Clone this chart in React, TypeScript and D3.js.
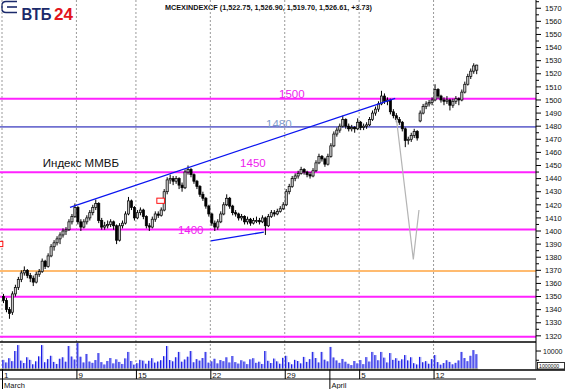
import * as d3 from "d3";
import { useEffect } from "react";

// MICEX intraday candles, 1 March - 14 April (5 bars a day)
const opens = [
  1350, 1347, 1340, 1338, 1352, 1357, 1363, 1368, 1370, 1366,
  1364, 1361, 1367, 1369, 1377, 1373, 1381, 1388, 1391, 1394,
  1397, 1400, 1401, 1407, 1411, 1418, 1407, 1403, 1407, 1410,
  1414, 1418, 1421, 1408, 1403, 1404, 1405, 1407, 1404, 1393,
  1404, 1406, 1413, 1423, 1418, 1410, 1414, 1416, 1411, 1404,
  1403, 1409, 1413, 1412, 1416, 1430, 1439, 1440, 1438, 1440,
  1435, 1433, 1445, 1447, 1443, 1438, 1434, 1428, 1425, 1419,
  1413, 1406, 1403, 1407, 1413, 1420, 1425, 1419, 1414, 1413,
  1410, 1411, 1407, 1409, 1406, 1408, 1408, 1407, 1410, 1404,
  1411, 1414, 1413, 1415, 1417, 1420, 1430, 1434, 1440, 1442,
  1444, 1447, 1445, 1443, 1442, 1446, 1452, 1457, 1455, 1451,
  1457, 1465, 1474, 1477, 1480, 1485, 1480, 1478, 1479, 1478,
  1483, 1479, 1480, 1481, 1485, 1490, 1493, 1497, 1503, 1499,
  1500, 1491, 1488, 1485, 1483, 1478, 1469, 1470, 1473, 1476,
  1484, 1490, 1495, 1497, 1498, 1500, 1508, 1503, 1500, 1499,
  1500, 1496, 1499, 1501, 1500, 1506, 1512, 1518, 1522, 1522.75,
];
const highs = [
  1352, 1349, 1342, 1354, 1359, 1365, 1370, 1373, 1371, 1368,
  1366, 1369, 1371, 1379, 1378, 1383, 1390, 1393, 1396, 1399,
  1402, 1403, 1409, 1413, 1421, 1419, 1409, 1409, 1412, 1416,
  1420, 1424, 1422, 1410, 1407, 1408, 1409, 1408, 1405, 1406,
  1408, 1415, 1426, 1424, 1419, 1416, 1418, 1417, 1412, 1406,
  1411, 1415, 1415, 1418, 1432, 1441, 1443, 1442, 1442, 1441,
  1437, 1447, 1450, 1448, 1444, 1439, 1435, 1430, 1426, 1420,
  1414, 1408, 1409, 1415, 1422, 1428, 1426, 1420, 1416, 1414,
  1413, 1412, 1411, 1410, 1410, 1411, 1410, 1412, 1411, 1413,
  1416, 1416, 1417, 1419, 1422, 1432, 1436, 1442, 1444, 1446,
  1449, 1448, 1446, 1445, 1448, 1454, 1459, 1458, 1456, 1459,
  1467, 1476, 1479, 1482, 1488, 1486, 1482, 1481, 1480, 1486,
  1484, 1482, 1483, 1487, 1492, 1495, 1499, 1507, 1505, 1502,
  1501, 1493, 1490, 1487, 1484, 1479, 1472, 1475, 1478, 1477,
  1492, 1497, 1499, 1500, 1502, 1512, 1509, 1504, 1502, 1503,
  1501, 1501, 1503, 1502, 1508, 1514, 1520, 1524, 1528, 1526.9,
];
const lows = [
  1345, 1338, 1333, 1336, 1350, 1355, 1361, 1366, 1364, 1361,
  1358, 1360, 1365, 1368, 1371, 1372, 1380, 1385, 1389, 1390,
  1395, 1397, 1400, 1405, 1410, 1405, 1400, 1402, 1405, 1408,
  1412, 1416, 1406, 1401, 1401, 1402, 1403, 1401, 1390, 1392,
  1402, 1405, 1412, 1416, 1408, 1409, 1412, 1409, 1402, 1400,
  1402, 1407, 1410, 1411, 1415, 1428, 1436, 1435, 1436, 1432,
  1430, 1432, 1443, 1441, 1436, 1432, 1426, 1423, 1417, 1411,
  1404, 1400, 1401, 1406, 1412, 1419, 1417, 1412, 1411, 1408,
  1408, 1405, 1405, 1404, 1405, 1406, 1405, 1406, 1397, 1403,
  1410, 1411, 1412, 1414, 1416, 1419, 1428, 1433, 1438, 1440,
  1443, 1443, 1441, 1440, 1441, 1445, 1451, 1453, 1449, 1450,
  1456, 1464, 1472, 1475, 1479, 1478, 1476, 1476, 1475, 1477,
  1477, 1477, 1478, 1480, 1484, 1488, 1491, 1496, 1497, 1496,
  1489, 1486, 1483, 1481, 1476, 1464, 1466, 1468, 1471, 1469,
  1483, 1489, 1493, 1495, 1496, 1499, 1501, 1498, 1496, 1497,
  1492, 1494, 1497, 1496, 1499, 1505, 1511, 1516, 1520, 1519.7,
];
const closes = [
  1347, 1340, 1337, 1352, 1357, 1363, 1368, 1370, 1366, 1364,
  1361, 1367, 1369, 1377, 1373, 1381, 1388, 1391, 1394, 1397,
  1400, 1401, 1407, 1411, 1418, 1407, 1403, 1407, 1410, 1414,
  1418, 1421, 1408, 1403, 1404, 1405, 1407, 1404, 1393, 1404,
  1406, 1413, 1423, 1418, 1410, 1414, 1416, 1411, 1404, 1403,
  1409, 1413, 1412, 1416, 1430, 1439, 1440, 1438, 1440, 1435,
  1433, 1445, 1447, 1443, 1438, 1434, 1428, 1425, 1419, 1413,
  1406, 1403, 1407, 1413, 1420, 1425, 1419, 1414, 1413, 1410,
  1411, 1407, 1409, 1406, 1408, 1408, 1407, 1410, 1404, 1411,
  1414, 1413, 1415, 1417, 1420, 1430, 1434, 1440, 1442, 1444,
  1447, 1445, 1443, 1442, 1446, 1452, 1457, 1455, 1451, 1457,
  1465, 1474, 1477, 1480, 1485, 1480, 1478, 1479, 1478, 1483,
  1479, 1480, 1481, 1485, 1490, 1493, 1497, 1503, 1499, 1500,
  1491, 1488, 1485, 1483, 1478, 1469, 1470, 1473, 1476, 1471,
  1490, 1495, 1497, 1498, 1500, 1508, 1503, 1500, 1499, 1500,
  1496, 1499, 1501, 1500, 1506, 1512, 1518, 1522, 1526, 1526.61,
];
const volumes = [
  5200, 3800, 6100, 4500, 10000, 13200, 4800, 3500, 6600, 5200,
  2800, 4400, 7100, 13200, 3900, 5600, 7400, 4100, 3000, 5800,
  6600, 4200, 12700, 7000, 5400, 14300, 6900, 3800, 8400, 4300,
  3600, 5100, 8900, 4000, 2700, 4600, 6200, 3300, 5500, 4100,
  3000, 6000, 9500, 4600, 2600, 3400, 5200, 4800, 3100, 4700,
  6100, 3700, 4300, 5000, 7200, 12700, 5100, 4400, 6600, 9500,
  4200, 5400, 6900, 10000, 3900, 5600, 4800, 6200, 9500, 3700,
  4400, 5800, 3300, 5100, 4500, 6600, 3800, 7300, 4000, 3200,
  5000, 4300, 2900, 5500, 6100, 3600, 4200, 3000, 10000, 4700,
  3500, 5900, 4400, 3100, 6300, 7400, 3900, 2800, 5200, 4600,
  3300, 6800, 4100, 5600, 9500, 6200, 3800, 9500, 5300, 4400,
  12200, 6500, 4900, 3600, 5700, 4200, 3100, 2400, 4600, 3300,
  5100, 2900, 6700, 4300, 9500, 7800, 5000, 9500, 6400, 3800,
  8900, 5200, 6100, 4700, 5500, 7800, 4900, 6600, 3400, 2700,
  6800, 3900, 4500, 3100, 5600, 7800, 4000, 2600, 3500, 5000,
  4100, 2800, 3600, 4900, 9500, 6200, 4500, 7400, 10500, 8300,
];

const priceTicks = [
  1320, 1330, 1340, 1350, 1360, 1370, 1380, 1390, 1400, 1410, 1420, 1430, 1440,
  1450, 1460, 1470, 1480, 1490, 1500, 1510, 1520, 1530, 1540, 1550, 1560, 1570,
];
const weekBars = [0, 25, 45, 70, 95, 120, 145];
const weekLabels = ["1", "9", "15", "22", "29", "5", "12"];
const monthBars = [0, 110];
const monthLabels = ["March", "April"];

// hand-drawn levels and annotations (data units: bar index, price)
const magentaLevels = [1501, 1444.8, 1401.1, 1349.8, 1319.4];
const blueLevel = 1479.5;
const orangeLevel = 1369.5;
const levelTexts = ["1500", "1480", "1450", "1400"];
const levelTextBars = [93.1, 88.7, 80, 59.1];
const levelTextPrices = [1501.5, 1478.7, 1448.6, 1397.6];
const trendUp = [[22.85, 1418.1], [132.1, 1501.3]];
const trendLow = [[70.2, 1392.4], [88.0, 1399.2]];
const projection = [[132.5, 1486], [138.2, 1378.4], [140.1, 1416]];
const redBoxes = [[-1.0, 1390.1], [53.3, 1423.1]];

const FONT = "'Liberation Sans', Arial, sans-serif";

export default function App() {
  useEffect(() => {
    document.body.style.margin = "0";
  }, []);

  const W = 568;
  const H = 389;
  const axisX = 536;
  const priceBottom = 342;
  const volBottom = 369.5;
  const axisBottom = 379;

  const x = d3.scaleLinear().domain([0, closes.length]).range([2, 478.2]);
  const y = d3.scaleLinear().domain([1315.3, 1576.3]).range([priceBottom, 0]);
  const vy = d3.scaleLinear().domain([0, 14500]).range([volBottom, 342.7]);
  const step = x(1) - x(0);

  const line = d3
    .line<number[]>()
    .x((d) => x(d[0]))
    .y((d) => y(d[1]));

  return (
    <svg width={W} height={H} style={{ display: "block", background: "#fff" }} fontFamily={FONT}>
      {/* logo */}
      <g fill="none" stroke="#1b2a6b" strokeWidth={1.6}>
        <path d="M17 1.5 H6 Q2 1.5 2 5.5 V8.5 Q2 12.5 6 12.5 H17" />
        <path d="M7 7 H17" />
      </g>
      <text x={21.5} y={20} fontSize={17} fontWeight="bold" fill="#1b2a6b" textLength={30} lengthAdjust="spacingAndGlyphs">
        ВТБ
      </text>
      <text x={54} y={20} fontSize={17} fontWeight="bold" fill="#e2141c" textLength={19} lengthAdjust="spacingAndGlyphs">
        24
      </text>
      <text x={165} y={9.5} fontSize={7.5} fontWeight="bold" fill="#111" textLength={207} lengthAdjust="spacingAndGlyphs">
        MCEXINDEXCF (1,522.75, 1,526.90, 1,519.70, 1,526.61, +3.73)
      </text>

      {/* week grid */}
      {weekBars.map((b) => (
        <line key={"g" + b} x1={x(b)} x2={x(b)} y1={0} y2={volBottom} stroke="#9a9a9a" strokeDasharray="2,2" />
      ))}

      {/* level lines */}
      {magentaLevels.map((v) => (
        <line key={"m" + v} x1={0} x2={axisX} y1={y(v)} y2={y(v)} stroke="#ff22ff" strokeWidth={2} />
      ))}
      <line x1={0} x2={axisX} y1={y(blueLevel)} y2={y(blueLevel)} stroke="#7070d0" strokeWidth={1.6} />
      <line x1={0} x2={axisX} y1={y(orangeLevel)} y2={y(orangeLevel)} stroke="#ffbb70" strokeWidth={2} />

      {levelTexts.map((t, i) => (
        <text
          key={t}
          x={x(levelTextBars[i])}
          y={y(levelTextPrices[i])}
          fontSize={11.5}
          fill={t === "1480" ? "#7f9ccc" : "#ee22ee"}
        >
          {t}
        </text>
      ))}
      <text x={x(13.7)} y={y(1448.6)} fontSize={11.5} fill="#111">
        Индекс ММВБ
      </text>

      {/* candles */}
      {closes.map((c, i) => {
        const o = opens[i];
        const cx = x(i + 0.5);
        const top = y(Math.max(o, c));
        const bh = Math.max(1, y(Math.min(o, c)) - top);
        const up = c >= o;
        return (
          <g key={"c" + i}>
            <line x1={cx} x2={cx} y1={y(highs[i])} y2={y(lows[i])} stroke="#000" strokeWidth={1} />
            <rect
              x={cx - 1.1}
              y={top}
              width={2.2}
              height={bh}
              fill={up ? "#c8c8c8" : "#000"}
              stroke="#000"
              strokeWidth={0.7}
            />
          </g>
        );
      })}

      {/* drawings */}
      <path d={line(trendUp) ?? ""} fill="none" stroke="#0a14f0" strokeWidth={1.3} />
      <path d={line(trendLow) ?? ""} fill="none" stroke="#0a14f0" strokeWidth={1.3} />
      <path d={line(projection) ?? ""} fill="none" stroke="#b4b4b4" strokeWidth={1.2} />
      {redBoxes.map((b, i) => (
        <rect key={"r" + i} x={x(b[0]) - 3.8} y={y(b[1]) - 2.6} width={7.6} height={5.2} fill="#fff" stroke="#ff1010" strokeWidth={1} />
      ))}

      {/* volume */}
      {volumes.map((v, i) => (
        <g key={"v" + i}>
          <rect x={x(i) + 0.3} y={vy(v)} width={step - 0.6} height={vy(0) - vy(v)} fill="#a0a4f4" />
          <line x1={x(i) + 0.8} x2={x(i) + 0.8} y1={vy(v)} y2={vy(0)} stroke="#1a1ae6" strokeWidth={1} />
        </g>
      ))}
      <line x1={0} x2={x(closes.length)} y1={volBottom - 0.5} y2={volBottom - 0.5} stroke="#cccc66" strokeWidth={1} />

      {/* frames */}
      <line x1={axisX} x2={axisX} y1={0} y2={volBottom} stroke="#000" />
      <line x1={0} x2={axisX} y1={priceBottom} y2={priceBottom} stroke="#000" strokeWidth={1.5} />
      <line x1={0} x2={565} y1={volBottom + 0.5} y2={volBottom + 0.5} stroke="#000" strokeWidth={1.5} />
      <line x1={0} x2={axisX} y1={axisBottom} y2={axisBottom} stroke="#000" />

      {/* price axis */}
      {priceTicks.map((v) => (
        <g key={"t" + v}>
          <line x1={axisX} x2={axisX + 5} y1={y(v)} y2={y(v)} stroke="#000" />
          <line x1={axisX} x2={axisX + 3} y1={y(v + 5)} y2={y(v + 5)} stroke="#000" />
          <text x={545} y={y(v) + 2.7} fontSize={7.5} fill="#111">
            {v}
          </text>
        </g>
      ))}

      {/* volume axis */}
      <line x1={axisX} x2={axisX + 5} y1={vy(10000)} y2={vy(10000)} stroke="#000" />
      <line x1={axisX} x2={axisX + 3} y1={vy(5000)} y2={vy(5000)} stroke="#000" />
      <text x={543} y={vy(10000) + 2.5} fontSize={7} fill="#111">
        10000
      </text>
      <rect x={537.5} y={362.5} width={27} height={6.5} fill="#fff" stroke="#000" strokeWidth={0.8} />
      <text x={539} y={367.8} fontSize={5.2} fill="#111">
        1000000
      </text>

      {/* time axis */}
      {weekBars.map((b, i) => (
        <g key={"w" + b}>
          <line x1={x(b) + 0.5} x2={x(b) + 0.5} y1={volBottom} y2={axisBottom} stroke="#000" />
          <text x={x(b) + 2} y={377.5} fontSize={8} fill="#111">
            {weekLabels[i]}
          </text>
        </g>
      ))}
      {monthBars.map((b, i) => (
        <g key={"mo" + b}>
          <line x1={x(b) + 0.5} x2={x(b) + 0.5} y1={volBottom} y2={H} stroke="#000" />
          <text x={x(b) + 2} y={387.5} fontSize={7.5} fill="#111">
            {monthLabels[i]}
          </text>
        </g>
      ))}
    </svg>
  );
}
